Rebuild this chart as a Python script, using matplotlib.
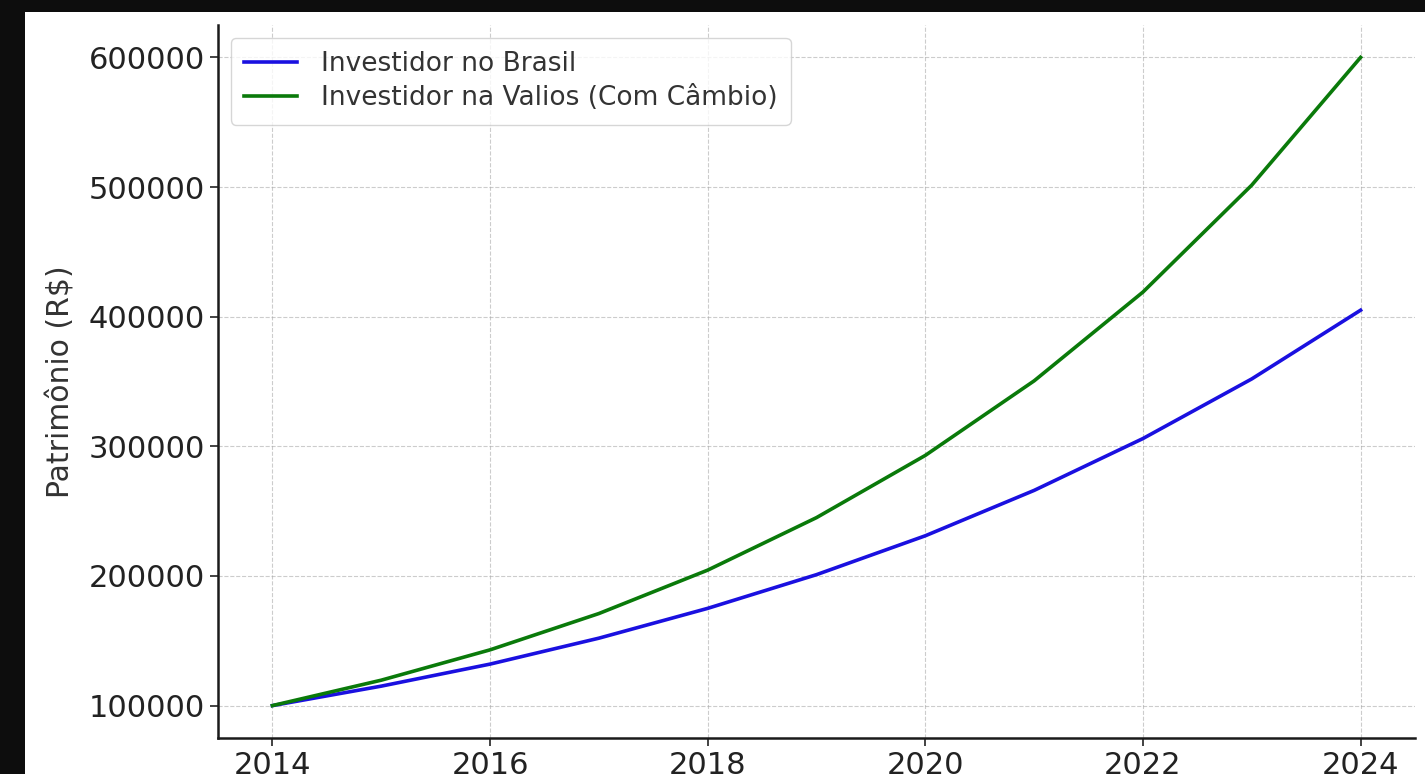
import matplotlib.pyplot as plt
from matplotlib.patches import Rectangle

anos = [2014, 2015, 2016, 2017, 2018, 2019, 2020, 2021, 2022, 2023, 2024]
brasil = [100000, 115000, 132000, 152000, 175000, 201000, 231000, 266000, 306000, 352000, 405000]
valios = [100000, 119600, 143000, 171000, 204500, 245000, 293000, 350500, 419000, 501500, 600000]

plt.rcParams['font.family'] = ['DejaVu Sans']

fig = plt.figure(figsize=(14.25, 7.74), dpi=100, facecolor='#0d0d0d')
# area branca do "print"
fig.patches.append(Rectangle((25/1425, 0), 1 - 25/1425, 1 - 12/774,
                             transform=fig.transFigure, facecolor='white',
                             edgecolor='none', zorder=-10))

ax = fig.add_axes([218/1425, 36/774, (1415-218)/1425, (738-25)/774])
ax.set_facecolor('white')
ax.plot(anos, brasil, color='#1a10e0', linewidth=2.6, label='Investidor no Brasil')
ax.plot(anos, valios, color='#0a7a0a', linewidth=2.6, label='Investidor na Valios (Com Câmbio)')

ax.set_ylabel('Patrimônio (R$)', fontsize=21.5, color='#333333', labelpad=9)
ax.set_xticks([2014, 2016, 2018, 2020, 2022, 2024])
ax.set_yticks([100000, 200000, 300000, 400000, 500000, 600000])
ax.tick_params(labelsize=22, colors='#222222', length=6, width=1.2)
ax.grid(True, linestyle='--', color='#aaaaaa', linewidth=0.8, alpha=0.6)

for s in ['top', 'right']:
    ax.spines[s].set_visible(False)
for s in ['left', 'bottom']:
    ax.spines[s].set_linewidth(1.8)
    ax.spines[s].set_color('#1a1a1a')

leg = ax.legend(loc='upper left', fontsize=19, frameon=True, borderaxespad=0.5,
                handlelength=2.0, labelspacing=0.3, borderpad=0.5, handletextpad=0.9)
leg.get_frame().set_edgecolor('#cccccc')
for t in leg.get_texts():
    t.set_color('#333333')

fig.savefig('out.png', dpi=100, facecolor=fig.get_facecolor())
